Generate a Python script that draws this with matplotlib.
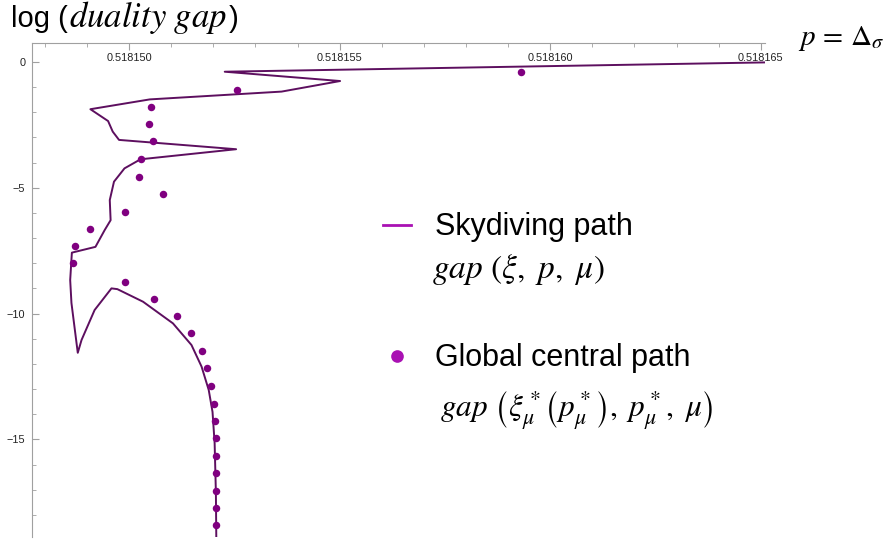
import matplotlib.pyplot as plt
from matplotlib.lines import Line2D
from matplotlib.ticker import MultipleLocator

plt.rcParams['font.family'] = ['Liberation Sans', 'DejaVu Sans']
plt.rcParams['mathtext.fontset'] = 'stix'

# skydiving path: p and log(duality gap)
sky_p = [0.51816510, 0.51815227, 0.51815501, 0.51815362, 0.51815049, 0.51814908,
         0.51814950, 0.51814961, 0.51814976, 0.51815254, 0.51815027, 0.51814989,
         0.51814964, 0.51814954, 0.51814956, 0.51814942, 0.51814920, 0.51814864,
         0.51814860, 0.51814863, 0.51814878, 0.51814887, 0.51814918, 0.51814958,
         0.51814972, 0.51815033, 0.51815104, 0.51815148, 0.51815172, 0.51815189,
         0.51815198, 0.51815203, 0.51815206, 0.51815207]
sky_gap = [-0.02, -0.39, -0.76, -1.18, -1.49, -1.88,
           -2.35, -2.77, -3.10, -3.47, -3.87, -4.23,
           -4.76, -5.49, -6.29, -6.68, -7.35, -7.58,
           -8.67, -9.58, -11.56, -11.05, -9.86, -9.00,
           -9.03, -9.53, -10.39, -11.25, -12.11, -13.04,
           -13.91, -15.15, -17.13, -19.00]

# global central path
cen_p = [0.51815930, 0.51815257, 0.51815051, 0.51815046, 0.51815056, 0.51815027,
         0.51815023, 0.51815080, 0.51814990, 0.51814906, 0.51814872, 0.51814867,
         0.51814990, 0.51815059, 0.51815114, 0.51815148, 0.51815172, 0.51815186,
         0.51815195, 0.51815201, 0.51815204, 0.51815206, 0.51815207, 0.51815207,
         0.51815207, 0.51815207, 0.51815207]
cen_gap = [-0.39, -1.10, -1.79, -2.48, -3.16, -3.87,
           -4.56, -5.25, -5.96, -6.65, -7.33, -8.00,
           -8.74, -9.41, -10.10, -10.76, -11.49, -12.18,
           -12.87, -13.60, -14.28, -14.96, -15.65, -16.35,
           -17.04, -17.72, -18.41]

xticks = [0.518150, 0.518155, 0.518160, 0.518165]
xtick_labels = ["0.518150", "0.518155", "0.518160", "0.518165"]
yticks = [0, -5, -10, -15]

line_col = "#5d0f5f"
dot_col = "#800080"
key_col = "#a911b3"
axis_col = "#a0a0a0"

fig = plt.figure(figsize=(8.87, 5.41), dpi=100)
ax = fig.add_axes([0.0364, 0.0074, 0.8261, 0.9126])

ax.plot(sky_p, sky_gap, color=line_col, lw=1.4, zorder=2)
ax.plot(cen_p, cen_gap, 'o', color=dot_col, ms=5.4, mec='none', zorder=3)

ax.set_xlim(0.5181477, 0.5181651)
ax.set_ylim(-18.88, 0.74)

for s in ['bottom', 'right']:
    ax.spines[s].set_visible(False)
for s in ['top', 'left']:
    ax.spines[s].set_color(axis_col)
    ax.spines[s].set_linewidth(0.8)

ax.set_xticks(xticks)
ax.set_xticklabels(xtick_labels)
ax.xaxis.set_minor_locator(MultipleLocator(1e-6))
ax.set_yticks(yticks)
ax.yaxis.set_minor_locator(MultipleLocator(1))

ax.xaxis.set_ticks_position('top')
ax.tick_params(axis='x', which='both', direction='in', top=True, bottom=False,
               labeltop=True, labelbottom=False, color=axis_col)
ax.tick_params(axis='x', which='major', length=5, pad=-14, labelsize=7.8, labelcolor='#222222')
ax.tick_params(axis='x', which='minor', length=3)
ax.tick_params(axis='y', which='both', direction='in', left=True, right=False, color=axis_col)
ax.tick_params(axis='y', which='major', length=5, pad=5, labelsize=7.8, labelcolor='#222222')
ax.tick_params(axis='y', which='minor', length=3)

# legend
h_sky = Line2D([], [], color=key_col, lw=2.0)
h_cen = Line2D([], [], ls='none', marker='o', color=key_col, ms=9.1, mec='none')
ax.legend([h_sky, h_cen], ['Skydiving path', 'Global central path'],
          loc='upper left', bbox_to_anchor=(0.432, 0.6074), bbox_transform=fig.transFigure,
          frameon=False, fontsize=22, handlelength=0.92, handletextpad=0.78,
          labelspacing=3.30, borderpad=0, borderaxespad=0)
fig.text(0.487, 0.487, r'$gap\ (\xi,\ p,\ \mu)$', fontsize=24, va='baseline')
fig.text(0.496, 0.228, r'$gap\ \left(\xi^*_\mu\left(p^*_\mu\right),\ p^*_\mu,\ \mu\right)$',
         fontsize=22.5, va='baseline')

# title: sans "log (", italic serif body, sans ")"
r = fig.canvas.get_renderer()
W = fig.bbox.width
t1 = fig.text(0.012, 0.950, 'log (', fontsize=21, va='baseline')
x1 = t1.get_window_extent(r).x1 / W
t2 = fig.text(x1 + 0.002, 0.950, r'$duality\ gap$', fontsize=25, va='baseline')
x2 = t2.get_window_extent(r).x1 / W
fig.text(x2 + 0.002, 0.950, ')', fontsize=21, va='baseline')

fig.text(0.900, 0.917, r'$p\,=\,\Delta_\sigma$', fontsize=21, va='baseline')

fig.savefig('out.png', dpi=100)
